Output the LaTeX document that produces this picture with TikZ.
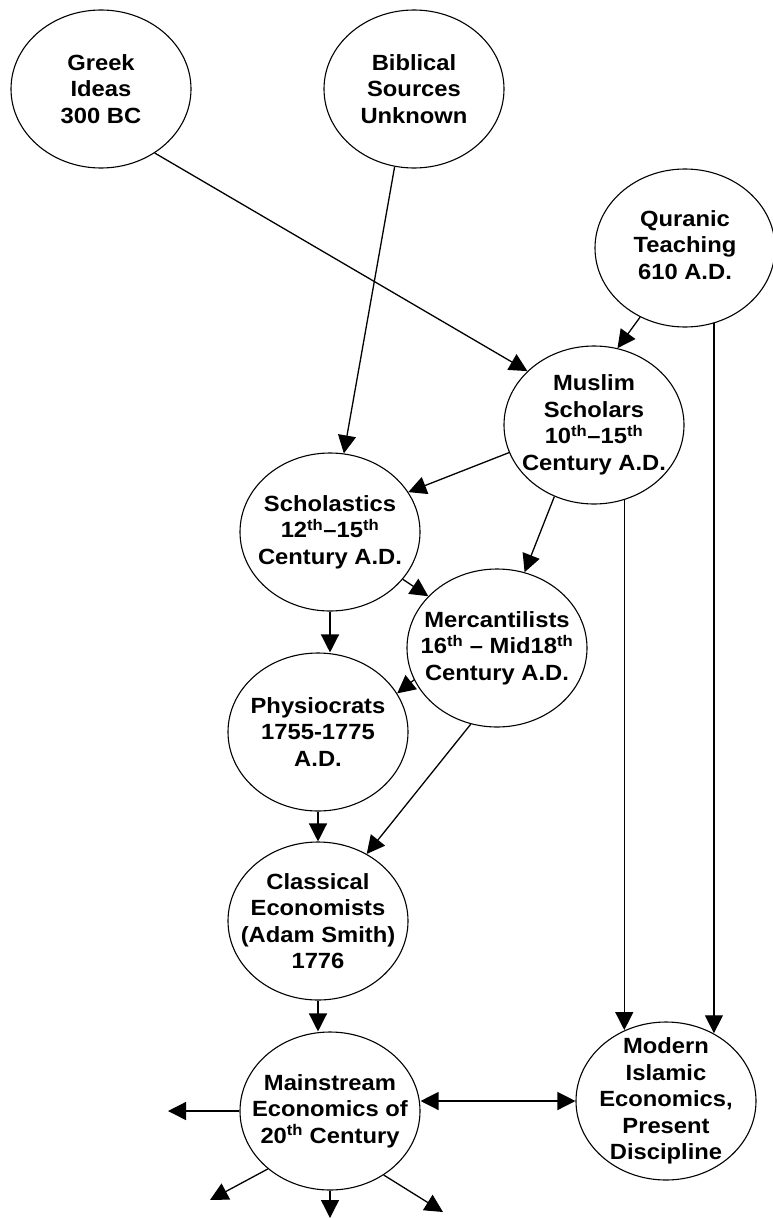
\documentclass[tikz,border=0pt]{standalone}
\usepackage{fontspec}
\setmainfont{Liberation Sans}[FakeStretch=1.08]
\usetikzlibrary{shapes.geometric,arrows.meta}
\newcommand{\supth}{\textsuperscript{th}}
\begin{document}
\begin{tikzpicture}[x=1pt,y=-1pt,
  bub/.style={draw, ellipse, line width=1.1pt, minimum width=180pt, minimum height=158pt, inner sep=0pt},
  txt/.style={font=\fontsize{22}{26.5}\selectfont\bfseries, align=center, inner sep=0pt},
  arr/.style={line width=1.3pt, -{Triangle[length=18pt,width=18pt]}},
  darr/.style={line width=1.3pt, {Triangle[length=18pt,width=18pt]}-{Triangle[length=18pt,width=18pt]}}]
\useasboundingbox (0,0) rectangle (773,1218);

\node[bub, label={[txt]center:{Greek\\Ideas\\300 BC}}] (greek) at (101,89) {};
\node[bub, label={[txt]center:{Biblical\\Sources\\Unknown}}] (biblical) at (414,89) {};
\node[bub, label={[txt,yshift=3pt]center:{Quranic\\Teaching\\610 A.D.}}] (quranic) at (685,248) {};
\node[bub, label={[txt]center:{Muslim\\Scholars\\10\supth--15\supth\\Century A.D.}}] (muslim) at (594,425) {};
\node[bub, label={[txt]center:{Scholastics\\12\supth--15\supth\\Century A.D.}}] (schol) at (330,532) {};
\node[bub, label={[txt]center:{Mercantilists\\16\supth{} -- Mid18\supth\\Century A.D.}}] (merc) at (497,648) {};
\node[bub, label={[txt]center:{Physiocrats\\1755-1775\\A.D.}}] (physio) at (318,732) {};
\node[bub, label={[txt]center:{Classical\\Economists\\(Adam Smith)\\1776}}] (classical) at (318,921) {};
\node[bub, label={[txt]center:{Mainstream\\Economics of\\20\supth{} Century}}] (mainstream) at (330,1111) {};
\node[bub, label={[txt]center:{Modern\\Islamic\\Economics,\\Present\\Discipline}}] (modern) at (666,1101) {};

\draw[arr] (greek.-50) -- (muslim.141);
\draw[arr] (biblical.-104.6) -- (schol.80.7);
\draw[arr] (quranic.-123.3) -- (muslim.73.6);
\draw[arr] (quranic.-69.6) -- (quranic.-69.6 |- modern.55);
\draw[arr] (muslim.-68.1) -- (muslim.-68.1 |- modern.120.3);
\draw[arr] (muslim.-162) -- (schol.27.1);
\draw[arr] (muslim.-119.3) -- (merc.70.7);
\draw[arr] (schol.-33.3) -- (merc.143.9);
\draw[arr] (schol.south) -- (schol.south |- physio.north);
\draw[arr] (merc.-159.4) -- (physio.26.6);
\draw[arr] (physio.south) -- (classical.north);
\draw[arr] (merc.-109.3) -- (classical.54.6);
\draw[arr] (classical.south) -- (classical.south |- mainstream.north);
\draw[darr] (mainstream.east |- modern.west) -- (modern.west);
\coordinate (ml) at (168,1111);
\coordinate (mbl) at (210,1200);
\coordinate (mb) at (330,1218);
\coordinate (mbr) at (443,1212);
\draw[arr] (mainstream.west) -- (ml);
\draw[arr] (mainstream.-137.9) -- (mbl);
\draw[arr] (mainstream.south) -- (mb);
\draw[arr] (mainstream.-50.8) -- (mbr);
\end{tikzpicture}
\end{document}
